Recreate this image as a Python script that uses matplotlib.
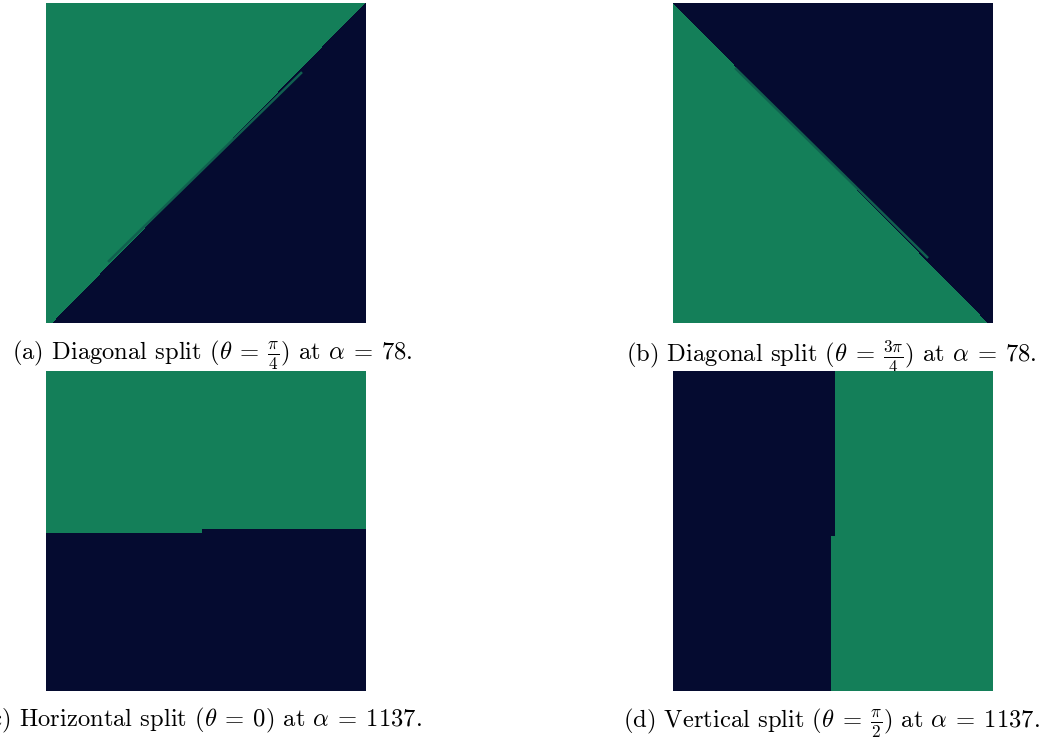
import numpy as np
import matplotlib
matplotlib.use("Agg")
import matplotlib.pyplot as plt
from matplotlib.colors import ListedColormap

plt.rcParams['mathtext.fontset'] = 'cm'
plt.rcParams['font.family'] = 'serif'
plt.rcParams['font.serif'] = ['cmr10', 'DejaVu Serif']
plt.rcParams['axes.formatter.use_mathtext'] = True

# ---- data (normalised image coordinates: u to the right, v downward) ----
captions = [
    r"(a) Diagonal split ($\theta\:=\:\frac{\pi}{4}$) at $\alpha\:=\:78$.",
    r"(b) Diagonal split ($\theta\:=\:\frac{3\pi}{4}$) at $\alpha\:=\:78$.",
    r"(c) Horizontal split ($\theta\:=\:0$) at $\alpha\:=\:1137$.",
    r"(d) Vertical split ($\theta\:=\:\frac{\pi}{2}$) at $\alpha\:=\:1137$.",
]
# diagonal boundaries: (u at v=0, u at v=1)
diag_a = (0.997, 0.019)
diag_b = (0.000, 0.984)
# faint seam segments along diagonal boundaries (u0, v0, u1, v1)
seam_a = (0.194, 0.809, 0.800, 0.216)
seam_b = (0.194, 0.203, 0.797, 0.797)
# horizontal split (c): step position u, boundary v left, boundary v right
split_c = (0.4875, 0.506, 0.494)
# vertical split (d): step position v, boundary u top, boundary u bottom
split_d = (0.516, 0.506, 0.494)

green = '#147F59'
navy = '#050B30'
seam_color = '#10604F'
cmap = ListedColormap([navy, green])

N = 320
u = (np.arange(N) + 0.5) / N
U, V = np.meshgrid(u, u)

img_a = (U < diag_a[0] + (diag_a[1] - diag_a[0]) * V).astype(float)   # green left/top
img_b = (U < diag_b[0] + (diag_b[1] - diag_b[0]) * V).astype(float)   # green left/bottom
bnd_c = np.where(U < split_c[0], split_c[1], split_c[2])
img_c = (V < bnd_c).astype(float)                                     # green top
bnd_d = np.where(V < split_d[0], split_d[1], split_d[2])
img_d = (U > bnd_d).astype(float)                                     # green right

fig = plt.figure(figsize=(10.42, 7.40), dpi=100)
W, H = 1042, 740
pos = [(46, 3), (673, 3), (46, 371), (673, 371)]
cap_x = [212, 831, 201, 831]
imgs = [img_a, img_b, img_c, img_d]
seams = [seam_a, seam_b, None, None]
for (x0, y0), cx, img, seam, cap in zip(pos, cap_x, imgs, seams, captions):
    ax = fig.add_axes([x0 / W, 1 - (y0 + 320) / H, 320 / W, 320 / H])
    ax.imshow(img, cmap=cmap, vmin=0, vmax=1, extent=[0, 1, 1, 0],
              interpolation='nearest', aspect='auto')
    if seam is not None:
        ax.plot([seam[0], seam[2]], [seam[1], seam[3]], color=seam_color,
                lw=1.8, solid_capstyle='butt')
    ax.set_xlim(0, 1)
    ax.set_ylim(1, 0)
    ax.axis('off')
    ax.text((cx - x0) / 320, -0.048, cap, transform=ax.transAxes, ha='center',
            va='top', fontsize=17.7, color='black')

fig.savefig('out.png', dpi=100)
